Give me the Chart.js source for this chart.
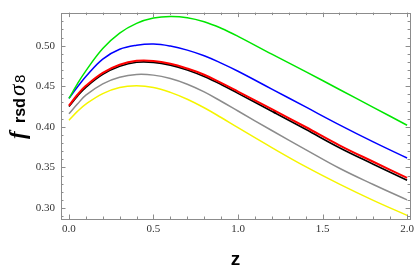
<!DOCTYPE html>
<html>
<head>
<meta charset="utf-8">
<script src="https://cdn.jsdelivr.net/npm/chart.js@4.4.1/dist/chart.umd.min.js"></script>
<style>
  html, body { margin: 0; padding: 0; background: #fff; }
  #wrap { width: 418px; height: 273px; }
</style>
</head>
<body>
<div id="wrap"><canvas id="c" width="418" height="273"></canvas></div>
<script>
// redshift grid
const zs = [0, 0.05, 0.1, 0.2, 0.3, 0.4, 0.5, 0.6, 0.7, 0.8, 0.9, 1.0, 1.2, 1.4, 1.6, 1.8, 2.0];

// f sigma8 curves
const greenVals  = [0.435, 0.453, 0.469, 0.4965, 0.5155, 0.5275, 0.534, 0.536, 0.5345, 0.5295, 0.5215, 0.5115, 0.4895, 0.468, 0.446, 0.424, 0.402];
const blueVals   = [0.435, 0.449, 0.462, 0.4835, 0.4955, 0.5005, 0.502, 0.4995, 0.4945, 0.4875, 0.4785, 0.4685, 0.4465, 0.4245, 0.4025, 0.3815, 0.3616];
const redVals    = [0.426, 0.4395, 0.4505, 0.4665, 0.4765, 0.4813, 0.4812, 0.4778, 0.4718, 0.4642, 0.4542, 0.4435, 0.4218, 0.3998, 0.3773, 0.357, 0.3372];
const blackVals  = [0.425, 0.4378, 0.4487, 0.4646, 0.4745, 0.4795, 0.4794, 0.476, 0.470, 0.462, 0.4522, 0.4412, 0.4192, 0.397, 0.3743, 0.354, 0.3342];
const grayVals   = [0.416, 0.428, 0.439, 0.453, 0.461, 0.4645, 0.4637, 0.4595, 0.4525, 0.443, 0.4315, 0.4195, 0.3955, 0.372, 0.349, 0.329, 0.310];
const yellowVals = [0.408, 0.419, 0.428, 0.441, 0.4485, 0.4505, 0.4485, 0.4425, 0.434, 0.4235, 0.4115, 0.399, 0.3745, 0.351, 0.3295, 0.3095, 0.291];

// little marker sitting on the black curve
const markerZ = [1.218];
const markerVals = [0.4183];

// ticks
const xMajor = [0, 0.5, 1.0, 1.5, 2.0];
const yMajor = [0.30, 0.35, 0.40, 0.45, 0.50];
const xMinorStep = 0.1;
const yMinorStep = 0.01;

const pts = vals => zs.map((z, i) => ({ x: z, y: vals[i] }));

function line(vals, color, w) {
  return {
    data: pts(vals),
    borderColor: color,
    borderWidth: w,
    pointRadius: 0,
    fill: false,
    tension: 0.4
  };
}

// frame with inward ticks on all four sides (Mathematica style)
const framePlugin = {
  id: 'frame',
  afterDatasetsDraw(chart) {
    const { ctx, chartArea: a, scales: { x, y } } = chart;
    ctx.save();
    ctx.strokeStyle = '#8c8c8c';
    ctx.lineWidth = 1;
    ctx.strokeRect(Math.round(a.left) + 0.5, Math.round(a.top) + 0.5,
      Math.round(a.right - a.left), Math.round(a.bottom - a.top));
    ctx.beginPath();
    // x ticks
    for (let k = 0; k <= 20; k++) {
      const v = k * xMinorStep;
      const px = Math.round(x.getPixelForValue(v)) + 0.5;
      const len = (k % 5 === 0) ? 4.5 : 2.5;
      ctx.moveTo(px, a.bottom); ctx.lineTo(px, a.bottom - len);
      ctx.moveTo(px, a.top); ctx.lineTo(px, a.top + len);
    }
    // y ticks
    for (let k = 29; k <= 54; k++) {
      const v = k * yMinorStep;
      const py = Math.round(y.getPixelForValue(v)) + 0.5;
      if (py < a.top || py > a.bottom) continue;
      const len = (k % 5 === 0) ? 4.5 : 2.5;
      ctx.moveTo(a.left, py); ctx.lineTo(a.left + len, py);
      ctx.moveTo(a.right, py); ctx.lineTo(a.right - len, py);
    }
    ctx.stroke();
    ctx.restore();
  }
};

// y axis label: f_rsd sigma_8
const yTitlePlugin = {
  id: 'ytitle',
  afterDraw(chart) {
    const ctx = chart.ctx;
    ctx.save();
    ctx.translate(25, 139);
    ctx.rotate(-Math.PI / 2);
    ctx.fillStyle = '#000';
    ctx.textBaseline = 'alphabetic';
    ctx.font = 'italic bold 23px "Liberation Serif"';
    ctx.fillText('f', 0, 0);
    ctx.font = 'bold 16px "Liberation Sans"';
    ctx.fillText('rsd', 16, 0);
    ctx.font = 'italic 23px "Liberation Serif"';
    ctx.fillText('σ', 43, 0);
    ctx.font = '15px "Liberation Sans"';
    ctx.fillText('8', 56, 0);
    ctx.restore();
  }
};

new Chart(document.getElementById('c'), {
  type: 'line',
  data: {
    datasets: [
      line(greenVals, '#00e600', 1.5),
      line(blueVals, '#0000ff', 1.5),
      line(grayVals, '#8c8c8c', 1.5),
      line(yellowVals, '#f5f500', 1.5),
      line(redVals, '#ff0000', 2),
      line(blackVals, '#000000', 1.6),
      {
        type: 'scatter',
        data: markerZ.map((z, i) => ({ x: z, y: markerVals[i] })),
        pointRadius: 1.6,
        pointBackgroundColor: '#000',
        pointBorderWidth: 0,
        showLine: false
      }
    ]
  },
  options: {
    responsive: false,
    devicePixelRatio: 1,
    animation: false,
    layout: { padding: { left: 0, right: 6, top: 0, bottom: 0 } },
    plugins: { legend: { display: false }, tooltip: { enabled: false } },
    scales: {
      x: {
        type: 'linear',
        min: -0.047,
        max: 2.018,
        afterBuildTicks: s => { s.ticks = xMajor.map(v => ({ value: v })); },
        afterFit: s => { s.height = 54; },
        grid: { display: false, drawTicks: false },
        border: { display: false },
        ticks: {
          padding: 4,
          color: '#333',
          font: { family: '"Liberation Serif"', size: 11 },
          callback: v => Number(v).toFixed(1),
          maxRotation: 0
        },
        title: {
          display: true,
          text: 'z',
          color: '#000',
          font: { family: '"Liberation Sans"', size: 19, weight: 'bold' },
          padding: { top: 0, bottom: 2 }
        }
      },
      y: {
        min: 0.2865,
        max: 0.5407,
        afterBuildTicks: s => { s.ticks = yMajor.map(v => ({ value: v })); },
        afterFit: s => { s.width = 61; },
        grid: { display: false, drawTicks: false },
        border: { display: false },
        ticks: {
          padding: 6,
          color: '#333',
          font: { family: '"Liberation Serif"', size: 11 },
          callback: v => Number(v).toFixed(2)
        }
      }
    }
  },
  plugins: [framePlugin, yTitlePlugin]
});
</script>
</body>
</html>
